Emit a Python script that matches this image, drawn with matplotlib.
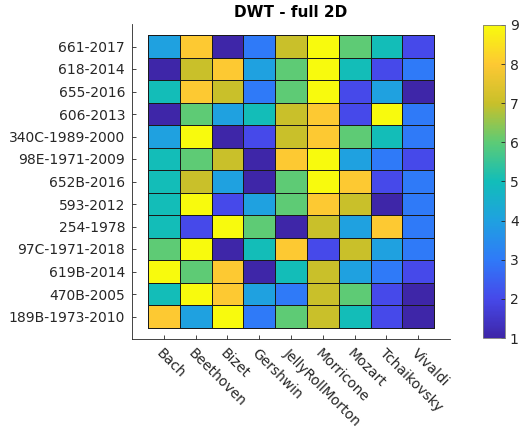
import matplotlib.pyplot as plt
import numpy as np
from matplotlib.colors import LinearSegmentedColormap

composers = ["Bach", "Beethoven", "Bizet", "Gershwin", "JellyRollMorton",
             "Morricone", "Mozart", "Tchaikovsky", "Vivaldi"]
pieces = ["661-2017", "618-2014", "655-2016", "606-2013", "340C-1989-2000",
          "98E-1971-2009", "652B-2016", "593-2012", "254-1978",
          "97C-1971-2018", "619B-2014", "470B-2005", "189B-1973-2010"]

# rank of each composer for each piece (1..9)
ranks = [
    [4, 8, 1, 3, 7, 9, 6, 5, 2],
    [1, 7, 8, 4, 6, 9, 5, 2, 3],
    [5, 8, 7, 3, 6, 9, 2, 4, 1],
    [1, 6, 4, 5, 7, 8, 2, 9, 3],
    [4, 9, 1, 2, 7, 8, 6, 5, 3],
    [5, 6, 7, 1, 8, 9, 4, 3, 2],
    [5, 7, 4, 1, 6, 9, 8, 2, 3],
    [5, 9, 2, 4, 6, 8, 7, 1, 3],
    [5, 2, 9, 6, 1, 7, 4, 8, 3],
    [6, 9, 1, 5, 8, 2, 7, 4, 3],
    [9, 6, 8, 1, 5, 7, 4, 3, 2],
    [5, 9, 8, 4, 3, 7, 6, 2, 1],
    [8, 4, 9, 3, 6, 7, 5, 2, 1],
]

# parula-like colormap
parula_pts = ["#3E26A8", "#4649EA", "#2F7AF8", "#1FA1E0", "#12BDB9",
              "#5CCB76", "#C8C02A", "#FDC833", "#F8FA0D"]
cmap = LinearSegmentedColormap.from_list("parula_like", parula_pts)

text_col = "#262626"
plt.rcParams["font.family"] = "DejaVu Sans"
plt.rcParams["font.size"] = 10

fig = plt.figure(figsize=(5.21, 4.29), dpi=100)
ax = fig.add_axes([132 / 521, 1 - 339 / 429, 318 / 521, 315 / 429])

data = np.array(ranks)
x_edges = np.arange(len(composers) + 1) - 0.5
y_edges = np.arange(len(pieces) + 1) - 0.5
mesh = ax.pcolormesh(x_edges, y_edges, data, cmap=cmap, vmin=1, vmax=9,
                     edgecolors="#1a1a1a", linewidth=0.5)

ax.set_xlim(-1, len(composers))
ax.set_ylim(len(pieces), -1)

ax.set_xticks(np.arange(len(composers)))
ax.set_xticklabels(composers, rotation=-45, ha="left", va="top",
                   rotation_mode="anchor", color=text_col)
ax.set_yticks(np.arange(len(pieces)))
ax.set_yticklabels(pieces, color=text_col)
ax.tick_params(direction="in", length=3, color=text_col, width=0.6)
ax.tick_params(axis="x", pad=5)
ax.tick_params(axis="y", pad=5)

for side in ("top", "right"):
    ax.spines[side].set_visible(False)
for side in ("left", "bottom"):
    ax.spines[side].set_color(text_col)
    ax.spines[side].set_linewidth(0.6)

ax.set_title("DWT - full 2D", fontweight="bold", fontsize=11, color="black", pad=5)

cax = fig.add_axes([483 / 521, 1 - 338 / 429, 22 / 521, 313 / 429])
cb = fig.colorbar(mesh, cax=cax, ticks=range(1, 10))
cb.outline.set_edgecolor("#7a7a7a")
cb.outline.set_linewidth(0.6)
cax.tick_params(direction="in", length=3, color=text_col, labelcolor=text_col,
                width=0.6, labelsize=10)

fig.savefig("out.png", dpi=100)
